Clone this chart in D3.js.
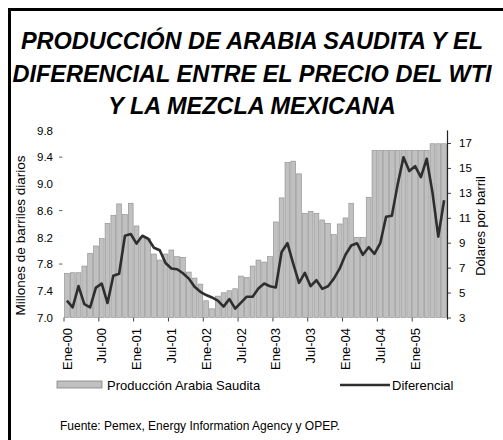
<!DOCTYPE html>
<html><head><meta charset="utf-8">
<script src="https://cdn.jsdelivr.net/npm/d3@7"></script>
<style>
body{margin:0;background:#fff;}
text{font-family:"Liberation Sans",Arial,sans-serif;fill:#000;}
</style></head>
<body><svg id="c" width="503" height="440"></svg>
<script>
// Monthly data, Ene-00 .. Jun-05
const produccion = [
  7.66,7.67,7.67,7.77,7.96,8.07,8.18,8.41,8.53,8.70,8.54,8.71,
  8.37,8.20,8.18,7.95,7.86,7.95,8.01,7.91,7.90,7.68,7.59,7.50,
  7.25,7.13,7.32,7.37,7.40,7.43,7.62,7.60,7.77,7.86,7.83,7.91,
  8.43,8.79,9.32,9.34,9.15,8.56,8.59,8.56,8.46,8.41,8.24,8.40,
  8.49,8.71,8.20,8.20,8.80,9.50,9.50,9.50,9.50,9.50,9.50,9.50,
  9.50,9.50,9.50,9.60,9.60,9.60];
const diferencial = [
  4.35,3.82,5.52,4.08,3.82,5.40,5.72,4.16,6.35,6.51,9.56,9.70,
  8.93,9.56,9.32,8.60,8.40,7.37,6.93,6.87,6.55,6.12,5.46,5.06,
  4.80,4.61,4.35,3.87,4.48,3.71,4.19,4.67,4.67,5.33,5.73,5.51,
  5.41,8.25,8.96,7.32,5.78,6.58,5.51,5.99,5.30,5.51,6.12,6.92,
  8.03,8.78,8.96,8.03,8.64,8.11,8.96,11.08,11.16,13.68,15.86,14.75,
  15.14,14.27,15.73,13.02,9.49,12.41];
const tickLabels = ["Ene-00","Jul-00","Ene-01","Jul-01","Ene-02","Jul-02",
  "Ene-03","Jul-03","Ene-04","Jul-04","Ene-05"];
const leftTicks = [7.0,7.4,7.8,8.2,8.6,9.0,9.4,9.8];
const rightTicks = [3,5,7,9,11,13,15,17];
const titleLines = ["PRODUCCIÓN DE ARABIA SAUDITA Y EL",
  "DIFERENCIAL ENTRE EL PRECIO DEL WTI","Y LA MEZCLA MEXICANA"];
const seriesNames = ["Producción Arabia Saudita","Diferencial"];
const fuente = "Fuente: Pemex, Energy Information Agency y OPEP.";

const svg = d3.select("#c");
const L = 64, R = 447, B = 317.5;

// frame
svg.append("line").attr("x1",9.5).attr("x2",9.5).attr("y1",8).attr("y2",440)
  .attr("stroke","#000").attr("stroke-width",3);
svg.append("line").attr("x1",8).attr("x2",503).attr("y1",9.5).attr("y2",9.5)
  .attr("stroke","#000").attr("stroke-width",3);

// title
const tb = [49, 82, 114];
titleLines.forEach((t,i)=>{
  svg.append("text").attr("x",252).attr("y",tb[i]).attr("text-anchor","middle")
    .style("font-size","23.5px").style("font-weight","bold").style("font-style","italic")
    .text(t);
});

const idx = d3.range(produccion.length);
const x = d3.scaleBand().domain(idx).range([L, R]).paddingInner(0.17).paddingOuter(0.085);
const xm = d3.scaleLinear().domain([0, produccion.length]).range([L, R]);
const yL = d3.scaleLinear().domain([7.0, 9.8]).range([B, 130.4]);
const yR = d3.scaleLinear().domain([3, 17]).range([B, 143]);

// bars
svg.append("g").selectAll("rect").data(produccion).join("rect")
  .attr("x",(d,i)=>x(i)).attr("width",x.bandwidth())
  .attr("y",d=>yL(d)).attr("height",d=>B-yL(d))
  .attr("fill","#c0c0c0").attr("stroke","#8c8c8c").attr("stroke-width",0.6);

// line
const line = d3.line().x((d,i)=>x(i)+x.bandwidth()/2).y(d=>yR(d));
svg.append("path").datum(diferencial).attr("d",line)
  .attr("fill","none").attr("stroke","#2e2e2e").attr("stroke-width",2.6)
  .attr("stroke-linejoin","round");

// left axis
const gl = svg.append("g").attr("transform",`translate(${L-9},0)`)
  .call(d3.axisLeft(yL).tickValues(leftTicks).tickFormat(d3.format(".1f")).tickSize(0).tickPadding(2));
gl.select(".domain").remove();
gl.selectAll("text").style("font-size","11.5px").style("font-family","Liberation Sans, Arial");
svg.append("g").selectAll("line").data([9.4,8.6,7.8]).join("line")
  .attr("x1",L-5).attr("x2",L-1.5).attr("y1",d=>yL(d)).attr("y2",d=>yL(d))
  .attr("stroke","#666").attr("stroke-width",1);

// right axis
const gr = svg.append("g").attr("transform",`translate(${R},0)`)
  .call(d3.axisRight(yR).tickValues(rightTicks).tickSize(4).tickPadding(8));
gr.select(".domain").remove();
gr.selectAll("line").attr("stroke","#444");
gr.selectAll("text").style("font-size","11.5px").style("font-family","Liberation Sans, Arial");
svg.append("line").attr("x1",R+0.5).attr("x2",R+0.5).attr("y1",yL(9.8)).attr("y2",B+2)
  .attr("stroke","#222").attr("stroke-width",1.2);

// x axis ticks (at 6-month boundaries) and labels
const tickPos = tickLabels.map((t,i)=>i*6);
svg.append("g").selectAll("line").data(tickPos).join("line")
  .attr("x1",d=>xm(d)).attr("x2",d=>xm(d)).attr("y1",B).attr("y2",B+4)
  .attr("stroke","#444").attr("stroke-width",1);
svg.append("g").selectAll("text").data(tickLabels).join("text")
  .attr("transform",(d,i)=>`translate(${x(i*6)+x.bandwidth()/2},328) rotate(-90)`)
  .attr("text-anchor","end").attr("dy","0.36em")
  .style("font-size","13px").text(d=>d);

// axis titles
svg.append("text").attr("transform","translate(25,235.5) rotate(-90)")
  .attr("text-anchor","middle").style("font-size","13.5px").text("Millones de barriles diarios");
svg.append("text").attr("transform","translate(484.5,226) rotate(-90)")
  .attr("text-anchor","middle").style("font-size","13px").text("Dólares por barril");

// legend
svg.append("rect").attr("x",57).attr("y",381).attr("width",45).attr("height",7)
  .attr("fill","#c0c0c0").attr("stroke","#808080").attr("stroke-width",0.8);
svg.append("text").attr("x",107).attr("y",389.5).style("font-size","13px").text(seriesNames[0]);
svg.append("line").attr("x1",340).attr("x2",390).attr("y1",385).attr("y2",385)
  .attr("stroke","#2e2e2e").attr("stroke-width",2.6);
svg.append("text").attr("x",392).attr("y",389.5).style("font-size","13px").text(seriesNames[1]);

// source
svg.append("text").attr("x",60).attr("y",430).style("font-size","12px").text(fuente);
</script></body></html>
